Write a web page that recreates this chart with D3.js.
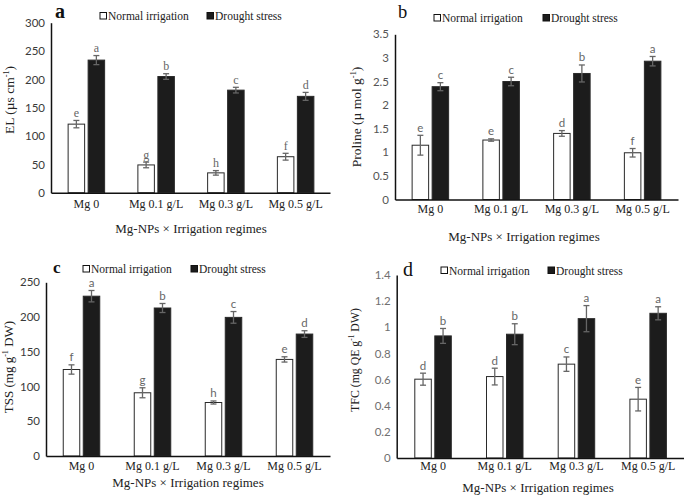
<!DOCTYPE html>
<html><head><meta charset="utf-8">
<script src="https://cdn.jsdelivr.net/npm/d3@7/dist/d3.min.js"></script>
<style>body{margin:0;background:#fff}svg{display:block}</style>
</head><body>
<svg id="chart" width="685" height="498"></svg>
<script>
const categories = ["Mg 0", "Mg 0.1 g/L", "Mg 0.3 g/L", "Mg 0.5 g/L"];
const seriesNames = ["Normal irrigation", "Drought stress"];
const xTitle = "Mg-NPs × Irrigation regimes";

// Panel a: EL
const elNormal = [121, 49, 35, 63.5];
const elNormalErr = [6.5, 5, 4, 6];
const elDrought = [234, 205, 181, 170];
const elDroughtErr = [8, 5, 5, 7];
const elNormalLetters = ["e", "g", "h", "f"];
const elDroughtLetters = ["a", "b", "c", "d"];
const elTicks = [0, 50, 100, 150, 200, 250, 300];

// Panel b: Proline
const proNormal = [1.15, 1.26, 1.40, 0.99];
const proNormalErr = [0.21, 0.025, 0.06, 0.09];
const proDrought = [2.39, 2.50, 2.67, 2.93];
const proDroughtErr = [0.085, 0.09, 0.18, 0.1];
const proNormalLetters = ["e", "e", "d", "f"];
const proDroughtLetters = ["c", "c", "b", "a"];
const proTicks = [0, 0.5, 1, 1.5, 2, 2.5, 3, 3.5];

// Panel c: TSS
const tssNormal = [124.5, 91, 77, 139];
const tssNormalErr = [6.7, 7.2, 2.2, 3.8];
const tssDrought = [230, 213, 199.5, 175.5];
const tssDroughtErr = [8.2, 6.5, 8.4, 4.8];
const tssNormalLetters = ["f", "g", "h", "e"];
const tssDroughtLetters = ["a", "b", "c", "d"];
const tssTicks = [0, 50, 100, 150, 200, 250];

// Panel d: TFC
const tfcNormal = [0.603, 0.623, 0.718, 0.45];
const tfcNormalErr = [0.046, 0.064, 0.055, 0.09];
const tfcDrought = [0.934, 0.947, 1.066, 1.107];
const tfcDroughtErr = [0.057, 0.08, 0.1, 0.05];
const tfcNormalLetters = ["d", "d", "c", "e"];
const tfcDroughtLetters = ["b", "b", "a", "a"];
const tfcTicks = [0, 0.2, 0.4, 0.6, 0.8, 1, 1.2, 1.4];

const SERIF = "'Liberation Serif','Times New Roman',serif";
const SANS = "Lato,'Open Sans','Liberation Sans',sans-serif";

const svg = d3.select("#chart");

function panel(cfg) {
  const g = svg.append("g");
  const x = d3.scaleBand().domain(categories).range([cfg.left, cfg.right]).paddingInner(0).paddingOuter(0);
  const xs = d3.scaleBand().domain(seriesNames).range([-18.25, 18.25]).paddingInner(0.175);
  const y = d3.scaleLinear().domain([0, cfg.max]).range([cfg.y0, cfg.top]);

  const series = [
    {name: seriesNames[0], vals: cfg.normal, errs: cfg.normalErr, letters: cfg.normalLetters, fill: "#ffffff"},
    {name: seriesNames[1], vals: cfg.drought, errs: cfg.droughtErr, letters: cfg.droughtLetters, fill: "#1c1c1c"}
  ];

  series.forEach(s => {
    categories.forEach((c, i) => {
      const cx = x(c) + x.bandwidth() / 2 + cfg.shift;
      const bx = cx + xs(s.name);
      const v = s.vals[i];
      g.append("rect")
        .attr("x", bx).attr("y", y(v))
        .attr("width", xs.bandwidth()).attr("height", cfg.y0 - y(v))
        .attr("fill", s.fill).attr("stroke", "#2a2a2a").attr("stroke-width", 1);
      const mx = bx + xs.bandwidth() / 2;
      const e1 = y(v + s.errs[i]), e0 = y(v - s.errs[i]);
      g.append("line").attr("x1", mx).attr("x2", mx).attr("y1", e1).attr("y2", e0)
        .attr("stroke", "#666").attr("stroke-width", 1.3);
      [e1, e0].forEach(yy => g.append("line").attr("x1", mx - 3).attr("x2", mx + 3)
        .attr("y1", yy).attr("y2", yy).attr("stroke", "#666").attr("stroke-width", 1.3));
      g.append("text").attr("x", mx).attr("y", e1 - 3.5)
        .attr("text-anchor", "middle")
        .attr("font-family", cfg.letterFont).attr("font-size", cfg.letterSize)
        .attr("fill", "#666").text(s.letters[i]);
    });
  });

  // y axis
  const ya = g.append("g").attr("transform", `translate(${cfg.left},0)`)
    .call(d3.axisLeft(y).tickValues(cfg.ticks).tickSize(0).tickPadding(6).tickFormat(d => String(+d.toFixed(2))));
  ya.select(".domain").attr("stroke", "#111").attr("stroke-width", 1.5);
  ya.selectAll("text").attr("font-family", SANS).attr("font-size", 11.5).attr("fill", cfg.tickColor);

  // x axis
  const xa = g.append("g").attr("transform", `translate(0,${cfg.y0})`)
    .call(d3.axisBottom(x).tickSize(0).tickPadding(cfg.catPad));
  xa.select(".domain").attr("stroke", "#111").attr("stroke-width", 1.5);
  xa.selectAll(".tick").attr("transform", d => `translate(${x(d) + x.bandwidth() / 2 + cfg.shift},0)`);
  xa.selectAll("text").attr("font-family", SERIF).attr("font-size", 12).attr("fill", "#222");

  // x title
  g.append("text").attr("x", cfg.xTitleX).attr("y", cfg.y0 + cfg.xTitleOff)
    .attr("text-anchor", "middle").attr("font-family", SERIF).attr("font-size", 13).attr("fill", "#222")
    .text(xTitle);

  // y title
  const yt = g.append("text")
    .attr("transform", `translate(${cfg.yTitleX},${cfg.yTitleY}) rotate(-90)`)
    .attr("text-anchor", "middle").attr("font-family", SERIF).attr("font-size", cfg.yTitleSize).attr("fill", "#222");
  yt.append("tspan").text(cfg.yTitle[0]);
  yt.append("tspan").attr("dy", -5).attr("font-size", cfg.yTitleSize * 0.62).text(cfg.yTitle[1]);
  yt.append("tspan").attr("dy", 5).text(cfg.yTitle[2]);

  // panel letter
  g.append("text").attr("x", cfg.letterX).attr("y", cfg.letterY)
    .attr("font-family", SERIF).attr("font-size", cfg.panelSize).attr("font-weight", cfg.panelWeight)
    .attr("fill", "#111").text(cfg.panelLetter);

  // legend
  series.forEach((s, i) => {
    const lx = cfg.legendX[i];
    g.append("rect").attr("x", lx).attr("y", cfg.legendY - 3.5).attr("width", 6.5).attr("height", 6.5)
      .attr("fill", s.fill).attr("stroke", "#111").attr("stroke-width", 1);
    g.append("text").attr("x", lx + 8).attr("y", cfg.legendY + 4)
      .attr("font-family", SERIF).attr("font-size", 11.5).attr("fill", "#222").text(s.name);
  });
}

panel({left: 51, right: 330, y0: 192.7, top: 22.7, max: 300, ticks: elTicks, shift: 0.5,
  normal: elNormal, normalErr: elNormalErr, drought: elDrought, droughtErr: elDroughtErr,
  normalLetters: elNormalLetters, droughtLetters: elDroughtLetters,
  letterFont: SERIF, letterSize: 12, tickColor: "#3a3a3a", catPad: 7, xTitleOff: 40,
  xTitleX: 191, yTitleX: 14, yTitleY: 100, yTitleSize: 13.5, yTitle: ["EL (µs cm", "-1", ")"],
  panelLetter: "a", letterX: 55, letterY: 18, panelSize: 20, panelWeight: "bold",
  legendX: [100, 207], legendY: 16});

panel({left: 395, right: 678, y0: 199.5, top: 34.3, max: 3.5, ticks: proTicks, shift: 0,
  normal: proNormal, normalErr: proNormalErr, drought: proDrought, droughtErr: proDroughtErr,
  normalLetters: proNormalLetters, droughtLetters: proDroughtLetters,
  letterFont: SANS, letterSize: 11.5, tickColor: "#555", catPad: 5, xTitleOff: 41,
  xTitleX: 524, yTitleX: 361, yTitleY: 117, yTitleSize: 13.5, yTitle: ["Proline (µ mol g", "-1", ")"],
  panelLetter: "b", letterX: 398, letterY: 18, panelSize: 18.5, panelWeight: "normal",
  legendX: [434, 543], legendY: 18});

panel({left: 46, right: 330, y0: 456, top: 282.3, max: 250, ticks: tssTicks, shift: 0,
  normal: tssNormal, normalErr: tssNormalErr, drought: tssDrought, droughtErr: tssDroughtErr,
  normalLetters: tssNormalLetters, droughtLetters: tssDroughtLetters,
  letterFont: SANS, letterSize: 11.5, tickColor: "#3a3a3a", catPad: 5, xTitleOff: 31,
  xTitleX: 188, yTitleX: 13, yTitleY: 367, yTitleSize: 13, yTitle: ["TSS (mg g", "-1", " DW)"],
  panelLetter: "c", letterX: 53, letterY: 273, panelSize: 17, panelWeight: "bold",
  legendX: [83, 191], legendY: 269});

panel({left: 396.7, right: 683.5, y0: 458, top: 275, max: 1.4, ticks: tfcTicks, shift: 0.5,
  normal: tfcNormal, normalErr: tfcNormalErr, drought: tfcDrought, droughtErr: tfcDroughtErr,
  normalLetters: tfcNormalLetters, droughtLetters: tfcDroughtLetters,
  letterFont: SANS, letterSize: 11.5, tickColor: "#707070", catPad: 3.5, xTitleOff: 34,
  xTitleX: 538, yTitleX: 359, yTitleY: 360, yTitleSize: 11.8, yTitle: ["TFC (mg QE g", "-1", " DW)"],
  panelLetter: "d", letterX: 403, letterY: 276, panelSize: 20, panelWeight: "normal",
  legendX: [441, 548], legendY: 270.5});
</script>
</body></html>
